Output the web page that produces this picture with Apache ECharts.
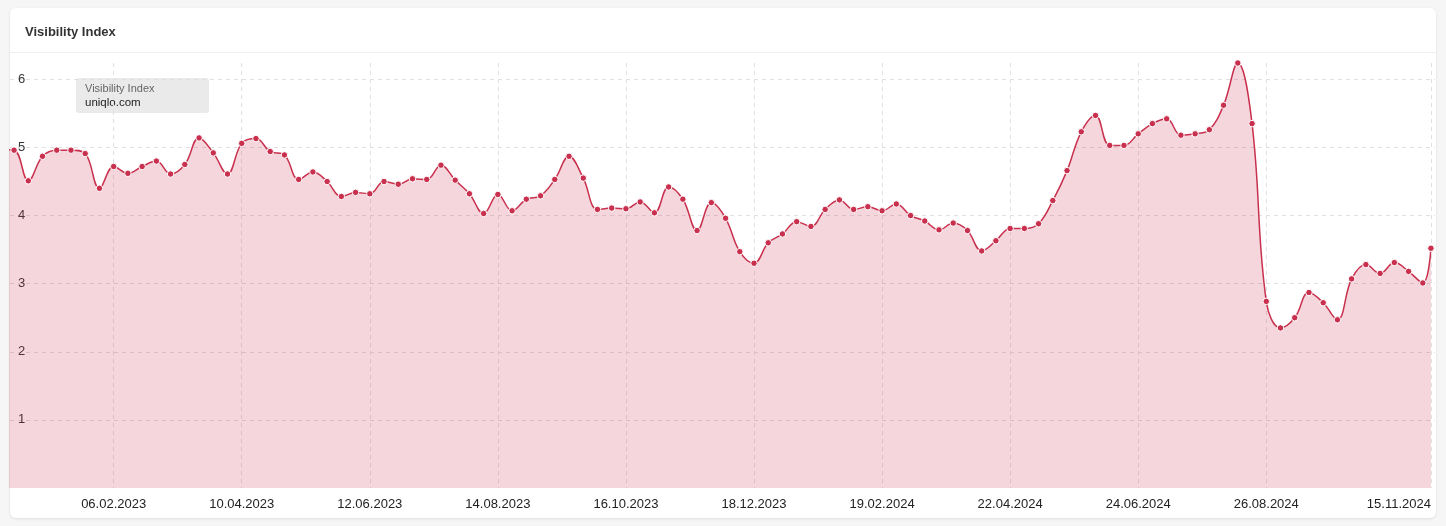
<!DOCTYPE html>
<html>
<head>
<meta charset="utf-8">
<script src="https://cdn.jsdelivr.net/npm/echarts@6/dist/echarts.min.js"></script>
<style>
  html, body { margin: 0; padding: 0; background: #f6f6f6; }
  #card { position: absolute; left: 10px; top: 8px; width: 1426px; height: 510px; background: #fff; border-radius: 6px; box-shadow: 0 1px 3px rgba(0,0,0,0.10); }
  #sep { position: absolute; left: 10px; top: 52px; width: 1426px; height: 1px; background: #efefef; }
  #chart { position: absolute; left: 0; top: 0; width: 1446px; height: 526px; }
</style>
</head>
<body>
<div id="card"></div>
<div id="sep"></div>
<div id="chart"></div>
<script>
const TITLE = 'Visibility Index';
const SERIES_NAME = 'Visibility Index';
const DOMAIN = 'uniqlo.com';

const DATES = [
  '2022-12-12','2022-12-19','2022-12-26',
  '2023-01-02','2023-01-09','2023-01-16','2023-01-23','2023-01-30','2023-02-06','2023-02-13','2023-02-20','2023-02-27',
  '2023-03-06','2023-03-13','2023-03-20','2023-03-27','2023-04-03','2023-04-10','2023-04-17','2023-04-24',
  '2023-05-01','2023-05-08','2023-05-15','2023-05-22','2023-05-29','2023-06-05','2023-06-12','2023-06-19','2023-06-26',
  '2023-07-03','2023-07-10','2023-07-17','2023-07-24','2023-07-31','2023-08-07','2023-08-14','2023-08-21','2023-08-28',
  '2023-09-04','2023-09-11','2023-09-18','2023-09-25','2023-10-02','2023-10-09','2023-10-16','2023-10-23','2023-10-30',
  '2023-11-06','2023-11-13','2023-11-20','2023-11-27','2023-12-04','2023-12-11','2023-12-18','2023-12-25',
  '2024-01-01','2024-01-08','2024-01-15','2024-01-22','2024-01-29','2024-02-05','2024-02-12','2024-02-19','2024-02-26',
  '2024-03-04','2024-03-11','2024-03-18','2024-03-25','2024-04-01','2024-04-08','2024-04-15','2024-04-22','2024-04-29',
  '2024-05-06','2024-05-13','2024-05-20','2024-05-27','2024-06-03','2024-06-10','2024-06-17','2024-06-24',
  '2024-07-01','2024-07-08','2024-07-15','2024-07-22','2024-07-29','2024-08-05','2024-08-12','2024-08-19','2024-08-26',
  '2024-09-02','2024-09-09','2024-09-16','2024-09-23','2024-09-30','2024-10-07','2024-10-14','2024-10-21','2024-10-28',
  '2024-11-04','2024-11-11','2024-11-15'
];

const VALUES = [
  4.97, 4.96, 4.51,
  4.87, 4.96, 4.96, 4.91, 4.40, 4.72, 4.62, 4.72, 4.80,
  4.61, 4.75, 5.14, 4.92, 4.61, 5.06, 5.13, 4.94,
  4.89, 4.53, 4.64, 4.50, 4.28, 4.34, 4.32, 4.50, 4.46,
  4.54, 4.53, 4.74, 4.52, 4.32, 4.03, 4.31, 4.07, 4.24,
  4.29, 4.53, 4.87, 4.55, 4.09, 4.11, 4.10, 4.20, 4.04,
  4.42, 4.24, 3.78, 4.19, 3.96, 3.47, 3.30, 3.60,
  3.73, 3.91, 3.84, 4.09, 4.23, 4.09, 4.13, 4.07, 4.17,
  4.00, 3.92, 3.79, 3.89, 3.78, 3.48, 3.63, 3.81, 3.81,
  3.88, 4.22, 4.66, 5.23, 5.47, 5.03, 5.03, 5.20,
  5.35, 5.42, 5.18, 5.20, 5.26, 5.62, 6.24, 5.35, 2.74,
  2.35, 2.50, 2.87, 2.72, 2.47, 3.07, 3.28, 3.15, 3.31,
  3.18, 3.01, 3.52
];

const X_TICKS = ['2023-02-06','2023-04-10','2023-06-12','2023-08-14','2023-10-16','2023-12-18',
                 '2024-02-19','2024-04-22','2024-06-24','2024-08-26','2024-11-15'];
const Y_TICKS = [1, 2, 3, 4, 5, 6];
const X_MIN = '2022-12-17';
const X_MAX = '2024-11-17';

function ts(s) { const p = s.split('-').map(Number); return new Date(p[0], p[1] - 1, p[2]).getTime(); }
function fmt(v) {
  const d = new Date(v);
  const dd = String(d.getDate()).padStart(2, '0');
  const mm = String(d.getMonth() + 1).padStart(2, '0');
  return dd + '.' + mm + '.' + d.getFullYear();
}

const data = DATES.map((d, i) => [ts(d), VALUES[i]]);
const xTickVals = X_TICKS.map(ts);

const FONT = '"Helvetica Neue", Helvetica, Arial, "Liberation Sans", sans-serif';
const chart = echarts.init(document.getElementById('chart'), null, { renderer: 'canvas' });
chart.setOption({
  animation: false,
  backgroundColor: 'transparent',
  textStyle: { fontFamily: FONT },
  title: {
    text: TITLE, left: 20, top: 21,
    textStyle: { fontSize: 13, fontWeight: 'bold', color: '#333', fontFamily: FONT }
  },
  grid: { left: 10, right: 11, top: 63, bottom: 38, containLabel: false },
  xAxis: {
    type: 'value',
    min: ts(X_MIN), max: ts(X_MAX),
    axisLine: { show: false },
    axisTick: { show: false, customValues: xTickVals },
    axisLabel: {
      customValues: xTickVals,
      formatter: fmt,
      color: '#222', fontSize: 13, margin: 10, fontFamily: FONT,
      alignMaxLabel: 'right'
    },
    splitLine: { show: true, lineStyle: { color: '#e0e0e0', type: [4, 4], width: 1 } }
  },
  yAxis: {
    type: 'value',
    min: 0, max: 'dataMax',
    axisLine: { show: false },
    axisTick: { show: false, customValues: Y_TICKS },
    axisLabel: {
      customValues: Y_TICKS,
      inside: true, margin: 8, color: '#333', fontSize: 13, fontFamily: FONT
    },
    splitLine: { show: true, lineStyle: { color: '#e0e0e0', type: [4, 4], width: 1 } }
  },
  graphic: [{
    type: 'group', left: 76, top: 78, z: 100,
    children: [
      { type: 'rect', shape: { x: 0, y: 0, width: 133, height: 35, r: 3 }, style: { fill: 'rgba(232,232,232,0.9)' } },
      { type: 'text', x: 9, y: 5, style: { text: SERIES_NAME, fill: '#666', font: '11px ' + FONT } },
      { type: 'text', x: 9, y: 19, style: { text: DOMAIN, fill: '#222', font: '11.5px ' + FONT } }
    ]
  }],
  series: [{
    type: 'line',
    name: SERIES_NAME,
    data: data,
    smooth: 0.4,
    clip: true,
    symbol: 'circle',
    symbolSize: 6.5,
    showSymbol: true,
    lineStyle: { color: '#c8304e', width: 1.5 },
    itemStyle: { color: '#c8304e', borderColor: '#fff', borderWidth: 1 },
    areaStyle: { color: 'rgba(205,52,82,0.2)', opacity: 1 }
  }]
});
</script>
</body>
</html>
